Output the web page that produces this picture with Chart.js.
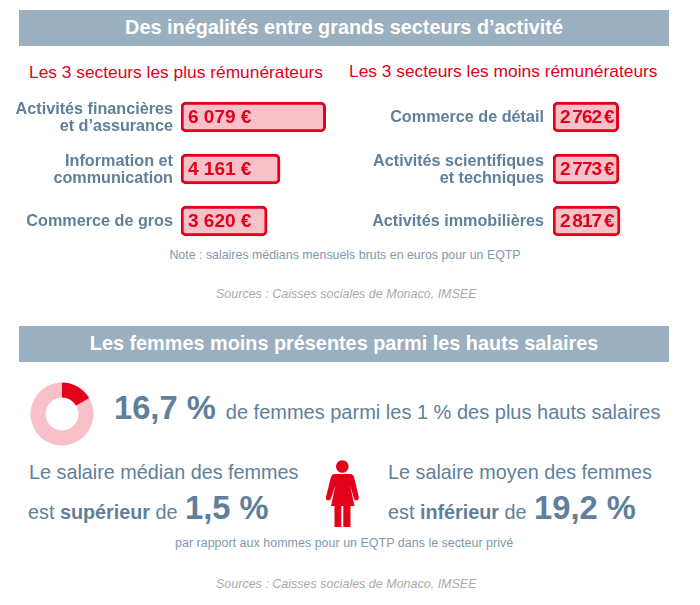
<!DOCTYPE html>
<html lang="fr">
<head>
<meta charset="utf-8">
<title>Inégalités salariales</title>
<script src="https://cdn.jsdelivr.net/npm/chart.js@4"></script>
<style>
  html, body { margin: 0; padding: 0; background: #fff; }
  body { position: relative; width: 700px; height: 605px; overflow: hidden; font-family: "Liberation Sans", Arial, sans-serif; color: #5f7f9b; }
  .abs { position: absolute; white-space: nowrap; }
  .band { left: 19px; width: 650px; height: 36px; line-height: 35px; background: #9aafc0; color: #fff; font-weight: bold; font-size: 19.85px; text-align: center; }
  .red { color: #e2001a; font-size: 17.35px; line-height: 20px; }
  .note { font-size: 12.4px; color: #7f98ae; line-height: 14px; text-align: center; left: 0; width: 690px; }
  .src { font-size: 12.5px; color: #aaa; font-style: italic; line-height: 14px; left: 216px; }
  .big { font-size: 32.7px; font-weight: bold; }
  .txt { font-size: 19.8px; line-height: 40px; }
  .txt .big { margin-left: 2px; }
  canvas { position: absolute; }
</style>
</head>
<body>
  <div class="abs band" style="top:10px">Des inégalités entre grands secteurs d’activité</div>
  <div class="abs red" style="left:29px;top:62px">Les 3 secteurs les plus rémunérateurs</div>
  <div class="abs red" style="left:349px;top:61px">Les 3 secteurs les moins rémunérateurs</div>

  <canvas id="chartHigh" style="left:0;top:91px;width:340px;height:156px"></canvas>
  <canvas id="chartLow" style="left:345px;top:91px;width:340px;height:156px"></canvas>

  <div class="abs note" style="top:248px">Note : salaires médians mensuels bruts en euros pour un EQTP</div>
  <div class="abs src" style="top:287px">Sources : Caisses sociales de Monaco, IMSEE</div>

  <div class="abs band" style="top:326px">Les femmes moins présentes parmi les hauts salaires</div>

  <canvas id="chartShare" style="left:27px;top:379px;width:70px;height:70px"></canvas>
  <div class="abs" style="left:114px;top:386px;line-height:44px;font-size:20px"><span class="big">16,7 %</span><span style="margin-left:10px">de femmes parmi les 1 % des plus hauts salaires</span></div>

  <div class="abs txt" style="left:29px;top:452px">Le salaire médian des femmes</div>
  <div class="abs txt" style="left:28px;top:488px">est <b>supérieur</b> de <span class="big">1,5 %</span></div>
  <div class="abs txt" style="left:388px;top:452px">Le salaire moyen des femmes</div>
  <div class="abs txt" style="left:388px;top:488px">est <b>inférieur</b> de <span class="big">19,2 %</span></div>

  <svg class="abs" style="left:320px;top:455px" width="44" height="76" viewBox="320 455 44 76">
    <g fill="#e2001a">
      <circle cx="342.3" cy="466.5" r="6.3"/>
      <path d="M335 474 H350 Q353 474 354 477 L358.8 497 Q359 500 356.5 500.5 Q354.5 500.5 354 498.5 L350 485 L354.5 506 H331 L335.5 485 L331 498.5 Q330 500.5 328 500.5 Q325.5 500 326 497 L331 477 Q332 474 335 474 Z"/>
      <rect x="334.5" y="506" width="6.8" height="21"/>
      <rect x="343.3" y="506" width="7.2" height="21"/>
    </g>
  </svg>

  <div class="abs" style="left:175px;top:536px;font-size:12.5px;color:#7f98ae;line-height:14px">par rapport aux hommes pour un EQTP dans le secteur privé</div>
  <div class="abs src" style="top:577px">Sources : Caisses sociales de Monaco, IMSEE</div>

<script>
// salaires médians mensuels bruts (euros)
const highSectors = [['Activités financières', 'et d’assurance'], ['Information et', 'communication'], 'Commerce de gros'];
const highValues = [6079, 4161, 3620];
const highLabels = ['6 079 €', '4 161 €', '3 620 €'];

const lowSectors = ['Commerce de détail', ['Activités scientifiques', 'et techniques'], 'Activités immobilières'];
const lowValues = [2762, 2773, 2817];
const lowLabels = ['2\u2009762\u2009€', '2\u2009773\u2009€', '2\u2009817\u2009€'];

const shareLabels = ['Femmes', 'Hommes'];
const shareValues = [16.7, 83.3];

const RED = '#e2001a';
const PINK = '#f8c0c8';
const FONT = '"Liberation Sans", Arial, sans-serif';

// writes the euro amount inside each bar
const barText = {
  id: 'barText',
  afterDatasetsDraw(chart, args, opts) {
    const ctx = chart.ctx;
    ctx.save();
    ctx.font = 'bold ' + opts.size + 'px ' + FONT;
    ctx.fillStyle = RED;
    ctx.textBaseline = 'middle';
    ctx.letterSpacing = opts.spacing;
    chart.getDatasetMeta(0).data.forEach((bar, i) => {
      ctx.fillText(opts.labels[i], bar.base + opts.offset, bar.y + 1);
    });
    ctx.restore();
  }
};

function salaryChart(id, sectors, values, labels, axisWidth, tickPadding, textOpts) {
  return new Chart(document.getElementById(id), {
    type: 'bar',
    data: {
      labels: sectors,
      datasets: [{
        data: values,
        backgroundColor: PINK,
        borderColor: RED,
        borderWidth: 3,
        borderRadius: 5,
        borderSkipped: false,
        barThickness: 30
      }]
    },
    options: {
      indexAxis: 'y',
      responsive: false,
      animation: false,
      layout: { padding: 0 },
      plugins: {
        legend: { display: false },
        tooltip: { enabled: false },
        barText: Object.assign({ labels: labels }, textOpts)
      },
      scales: {
        x: { display: false, min: 0, max: (340 - axisWidth) / 0.0238 },
        y: {
          grid: { display: false, drawTicks: false },
          border: { display: false },
          afterFit(scale) {
            scale.width = axisWidth;
            // multi-line labels would otherwise squeeze the categories unevenly
            scale.paddingTop = 0;
            scale.paddingBottom = 0;
          },
          ticks: {
            color: '#5f7f9b',
            padding: tickPadding,
            labelOffset: 1,
            font: { family: FONT, size: 16.2, weight: 'bold', lineHeight: 1 }
          }
        }
      }
    },
    plugins: [barText]
  });
}

salaryChart('chartHigh', highSectors, highValues, highLabels, 181, 8, { size: 19, spacing: '0px', offset: 7 });
salaryChart('chartLow', lowSectors, lowValues, lowLabels, 208, 9, { size: 19, spacing: '-1px', offset: 7 });

new Chart(document.getElementById('chartShare'), {
  type: 'doughnut',
  data: {
    labels: shareLabels,
    datasets: [{ data: shareValues, backgroundColor: [RED, PINK], borderWidth: 0 }]
  },
  options: {
    responsive: false,
    animation: false,
    cutout: '52%',
    layout: { padding: 3.5 },
    plugins: { legend: { display: false }, tooltip: { enabled: false } }
  }
});
</script>
</body>
</html>
